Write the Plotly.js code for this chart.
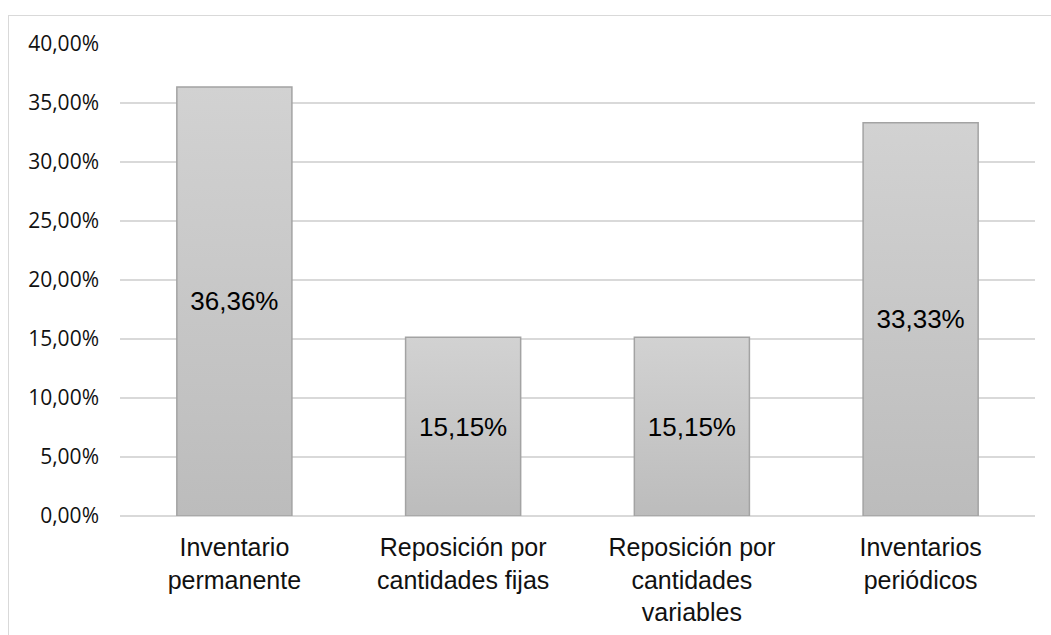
<!DOCTYPE html>
<html>
<head>
<meta charset="utf-8">
<script src="https://cdn.plot.ly/plotly-3.0.1.min.js"></script>
<style>
  html, body { margin: 0; padding: 0; background: #fff; }
  #chart { width: 1051px; height: 635px; position: absolute; left: 0; top: 0; }
  #frame { position: absolute; left: 8px; top: 15px; width: 1200px; height: 800px;
           border-left: 1.5px solid #d9d9d9; border-top: 1.5px solid #d9d9d9; pointer-events: none; }
</style>
</head>
<body>
<div id="chart"></div>
<div id="frame"></div>
<script>
const categories = [
  "Inventario<br>permanente",
  "Reposición por<br>cantidades fijas",
  "Reposición por<br>cantidades<br>variables",
  "Inventarios<br>periódicos"
];
const values = [36.36, 15.15, 15.15, 33.33];
const yTicks = [0, 5, 10, 15, 20, 25, 30, 35, 40];
const yTickLabels = yTicks.map(function (v) { return v.toFixed(2).replace(".", ",") + "%"; });

const trace = {
  type: "bar",
  x: categories,
  y: values,
  texttemplate: "%{y:.2f}%",
  textposition: "inside",
  insidetextanchor: "middle",
  textangle: 0,
  textfont: { family: "Liberation Sans, Arial, sans-serif", size: 26, color: "#000" },
  marker: { color: "#c8c8c8", line: { color: "#a3a3a3", width: 1.5 } },
  hoverinfo: "skip"
};

const layout = {
  width: 1051,
  height: 635,
  margin: { l: 120, r: 16, t: 43.5, b: 119 },
  paper_bgcolor: "#fff",
  plot_bgcolor: "#fff",
  separators: ",.",
  bargap: 0.497,
  showlegend: false,
  xaxis: {
    type: "category",
    showgrid: false,
    zeroline: false,
    showline: false,
    ticks: "",
    ticklabelstandoff: 14,
    tickfont: { family: "Liberation Sans, Arial, sans-serif", size: 25, color: "#111" }
  },
  yaxis: {
    range: [0, 40],
    tickmode: "array",
    tickvals: yTicks,
    ticktext: yTickLabels,
    showgrid: true,
    gridcolor: "#d9d9d9",
    gridwidth: 1.5,
    zeroline: true,
    zerolinecolor: "#d9d9d9",
    zerolinewidth: 1.5,
    showline: false,
    ticks: "",
    ticklabelstandoff: 20,
    tickfont: { family: "Open Sans, sans-serif", size: 21, color: "#111" }
  }
};

Plotly.newPlot("chart", [trace], layout, { staticPlot: true, displayModeBar: false }).then(function (gd) {
  const svg = gd.querySelector("svg.main-svg");
  const ns = "http://www.w3.org/2000/svg";
  let defs = svg.querySelector("defs");
  if (!defs) { defs = document.createElementNS(ns, "defs"); svg.insertBefore(defs, svg.firstChild); }
  const grad = document.createElementNS(ns, "linearGradient");
  grad.setAttribute("id", "barGrad");
  grad.setAttribute("x1", "0"); grad.setAttribute("y1", "0");
  grad.setAttribute("x2", "0"); grad.setAttribute("y2", "1");
  [["0", "#d2d2d2"], ["1", "#bcbcbc"]].forEach(function (s) {
    const st = document.createElementNS(ns, "stop");
    st.setAttribute("offset", s[0]);
    st.setAttribute("stop-color", s[1]);
    grad.appendChild(st);
  });
  defs.appendChild(grad);
  gd.querySelectorAll(".bars .point path").forEach(function (p) {
    p.style.fill = "url(#barGrad)";
  });
});
</script>
</body>
</html>
